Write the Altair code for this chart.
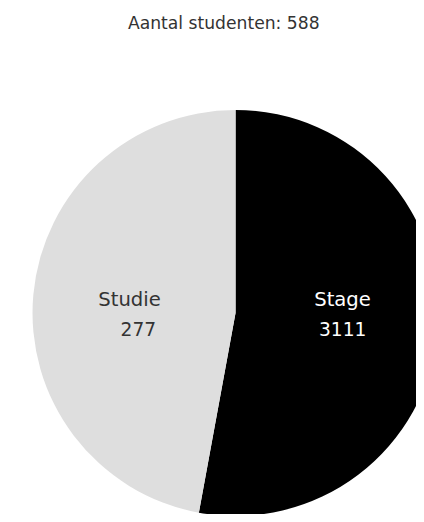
import altair as alt
import pandas as pd

categories = ["Stage", "Studie"]
values = [311, 277]
value_labels = ["3111", "277"]
order = [0, 1]
title_text = "Aantal studenten: 588"

df = pd.DataFrame({"cat": categories, "value": values, "label": value_labels, "order": order})

FONT = "DejaVu Sans"
CX, CY, R = 232, 306, 207

arc = alt.Chart(df).mark_arc(radius=R).encode(
    theta=alt.Theta("value:Q", stack=True),
    order=alt.Order("order:Q"),
    color=alt.Color("cat:N", scale=alt.Scale(domain=categories, range=["#000000", "#dedede"]), legend=None),
    x=alt.value(CX),
    y=alt.value(CY),
)

lab_base = alt.Chart(df).transform_window(
    cum="sum(value)", sort=[alt.SortField("order")]
).transform_calculate(
    mid="datum.cum - datum.value / 2"
).encode(
    theta=alt.Theta("mid:Q", stack=False),
    x=alt.value(CX),
    y=alt.value(CY),
)

def labels(cat, color, name_off, val_off):
    b = lab_base.transform_filter(alt.datum.cat == cat)
    n = b.mark_text(radius=105, font=FONT, fontSize=20, color=color,
                    dx=name_off[0], dy=name_off[1], baseline="middle").encode(text="cat:N")
    v = b.mark_text(radius=105, font=FONT, fontSize=19, color=color,
                    dx=val_off[0], dy=val_off[1], baseline="middle").encode(text="label:N")
    return [n, v]

title = alt.Chart(pd.DataFrame({"t": [title_text]})).mark_text(
    font=FONT, fontSize=17.5, color="#333333", baseline="middle"
).encode(text="t:N", x=alt.value(220), y=alt.value(11))

layers = ([arc]
          + labels("Stage", "#ffffff", (4.5, -22.5), (4.7, 7.5))
          + labels("Studie", "#333333", (-3.5, -3.5), (5.5, 26.5))
          + [title])

chart = alt.layer(*layers).resolve_scale(theta="shared").properties(
    width=416, height=506,
    autosize=alt.AutoSizeParams(type="none"),
    padding=0,
).configure_view(stroke=None)

chart.save("out.html", embed_options={"renderer": "svg", "actions": False})
